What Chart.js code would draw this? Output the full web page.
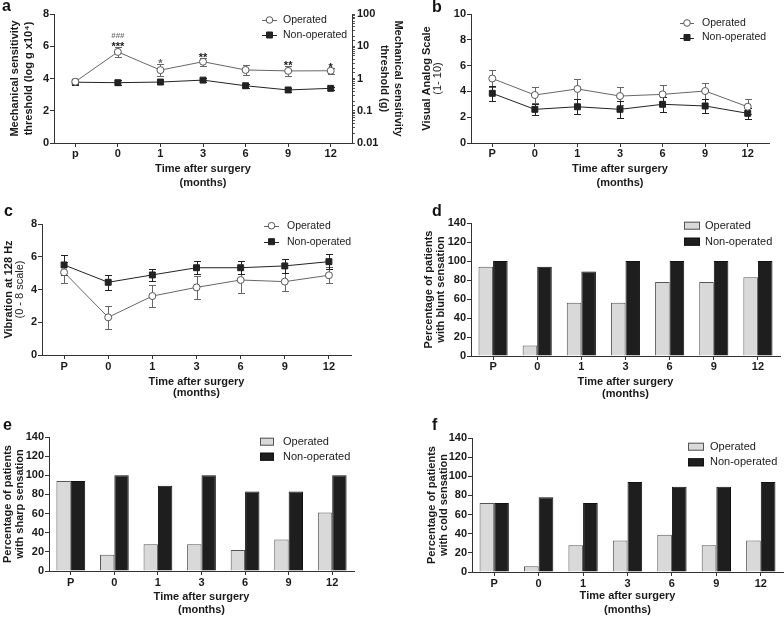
<!DOCTYPE html>
<html>
<head>
<meta charset="utf-8">
<script src="https://cdn.jsdelivr.net/npm/chart.js@4.4.1/dist/chart.umd.min.js"></script>
<style>
body { margin: 0; background: #fff; width: 784px; height: 617px; position: relative; overflow: hidden; }
canvas { position: absolute; }
.lbl { position: absolute; font: bold 16px "Liberation Sans", Arial, sans-serif; color: #111; line-height: 16px; }
</style>
</head>
<body>
<canvas id="cA" width="415" height="200" style="left:0;top:0"></canvas>
<canvas id="cB" width="392" height="200" style="left:392px;top:0"></canvas>
<canvas id="cC" width="392" height="210" style="left:0;top:200px"></canvas>
<canvas id="cD" width="392" height="210" style="left:392px;top:200px"></canvas>
<canvas id="cE" width="392" height="207" style="left:0;top:410px"></canvas>
<canvas id="cF" width="392" height="207" style="left:392px;top:410px"></canvas>
<div class="lbl" style="left:2px;top:-2px">a</div>
<div class="lbl" style="left:432px;top:-1px">b</div>
<div class="lbl" style="left:4px;top:203px">c</div>
<div class="lbl" style="left:432px;top:203px">d</div>
<div class="lbl" style="left:3px;top:417px">e</div>
<div class="lbl" style="left:432px;top:417px">f</div>
<script>
var FONT = '"Liberation Sans", Arial, sans-serif';
var INK = '#1a1a1a';
var AXIS = '#333';
Chart.defaults.font.family = FONT;
Chart.defaults.color = INK;

// categories
var monthsA = ["p", "0", "1", "3", "6", "9", "12"];
var months = ["P", "0", "1", "3", "6", "9", "12"];

// a: mechanical sensitivity threshold
var mechOp = [3.8, 5.65, 4.52, 5.04, 4.53, 4.47, 4.48];
var mechOpErr = [0.15, 0.3, 0.35, 0.25, 0.33, 0.3, 0.2];
var mechNon = [3.77, 3.74, 3.78, 3.9, 3.55, 3.29, 3.39];
var mechNonErr = [0.15, 0.15, 0.15, 0.12, 0.13, 0.1, 0.1];
var mechStars = ["", "***", "*", "**", "", "**", "*"];
var mechHashes = ["", "###", "", "", "", "", ""];
var gramTicks = ["0.01", "0.1", "1", "10", "100"];

// b: visual analog scale
var vasOp = [5.0, 3.72, 4.19, 3.64, 3.77, 4.03, 2.81];
var vasOpErr = [0.66, 0.62, 0.77, 0.68, 0.75, 0.6, 0.58];
var vasNon = [3.85, 2.61, 2.81, 2.61, 3.0, 2.87, 2.3];
var vasNonErr = [0.6, 0.45, 0.6, 0.65, 0.6, 0.55, 0.45];

// c: vibration
var vibOp = [5.05, 2.3, 3.6, 4.13, 4.58, 4.48, 4.87];
var vibOpErr = [0.65, 0.7, 0.65, 0.68, 0.8, 0.55, 0.5];
var vibNon = [5.5, 4.44, 4.89, 5.33, 5.33, 5.44, 5.7];
var vibNonErr = [0.6, 0.45, 0.35, 0.4, 0.4, 0.45, 0.45];

// d-f: percentage of patients
var bluntOp = [94, 11, 56, 56, 78, 78, 83];
var bluntNon = [100, 94, 89, 100, 100, 100, 100];
var sharpOp = [94, 17, 28, 28, 22, 33, 61];
var sharpNon = [94, 100, 89, 100, 83, 83, 100];
var coldOp = [72, 6, 28, 33, 39, 28, 33];
var coldNon = [72, 78, 72, 94, 89, 89, 94];

// error bars, drawn under the markers
var errorBars = {
  id: 'errorBars',
  beforeDatasetsDraw: function(chart) {
    var ctx = chart.ctx;
    chart.data.datasets.forEach(function(ds, i) {
      if (!ds.errors) return;
      var meta = chart.getDatasetMeta(i);
      var ys = chart.scales[meta.yAxisID];
      ctx.save();
      ctx.strokeStyle = ds.errorColor;
      ctx.lineWidth = 1;
      meta.data.forEach(function(pt, j) {
        var x = Math.round(pt.x) + 0.5;
        var top = Math.round(ys.getPixelForValue(ds.data[j] + ds.errors[j])) + 0.5;
        var bot = Math.round(ys.getPixelForValue(ds.data[j] - ds.errors[j])) + 0.5;
        ctx.beginPath();
        ctx.moveTo(x, top); ctx.lineTo(x, bot);
        ctx.moveTo(x - 3.5, top); ctx.lineTo(x + 3.5, top);
        ctx.moveTo(x - 3.5, bot); ctx.lineTo(x + 3.5, bot);
        ctx.stroke();
      });
      ctx.restore();
    });
  }
};

// y titles (mixed weights, so drawn by hand)
function sideTitles(items) {
  return {
    id: 'sideTitles',
    afterDraw: function(chart) {
      var ctx = chart.ctx, ca = chart.chartArea;
      var cy = (ca.top + ca.bottom) / 2;
      items.forEach(function(it) {
        ctx.save();
        ctx.translate(it.x, cy);
        ctx.rotate(it.rot || -Math.PI / 2);
        ctx.font = (it.bold === false ? '' : 'bold ') + '11px ' + FONT;
        ctx.fillStyle = INK;
        ctx.textAlign = 'center';
        ctx.textBaseline = 'middle';
        ctx.fillText(it.text, 0, 0);
        ctx.restore();
      });
    }
  };
}

function legendBox(o) {
  return {
    id: 'legendBox',
    afterDraw: function(chart) {
      var ctx = chart.ctx;
      chart.data.datasets.forEach(function(ds, i) {
        var y = o.rows[i];
        ctx.save();
        if (o.kind === 'line') {
          ctx.strokeStyle = ds.borderColor;
          ctx.lineWidth = 1;
          ctx.beginPath();
          ctx.moveTo(o.x0, Math.round(y) + 0.5);
          ctx.lineTo(o.x1, Math.round(y) + 0.5);
          ctx.stroke();
          var mx = (o.x0 + o.x1) / 2;
          ctx.fillStyle = ds.pointBackgroundColor;
          ctx.strokeStyle = ds.pointBorderColor;
          ctx.beginPath();
          if (ds.pointStyle === 'rect') ctx.rect(mx - 3, y - 3, 6, 6);
          else ctx.arc(mx, y, 3.3, 0, Math.PI * 2);
          ctx.fill();
          ctx.stroke();
        } else {
          ctx.fillStyle = ds.backgroundColor;
          ctx.strokeStyle = ds.borderColor;
          ctx.lineWidth = 1;
          ctx.fillRect(o.x0, y - 4, o.x1 - o.x0, 8);
          ctx.strokeRect(o.x0 + 0.5, y - 3.5, o.x1 - o.x0 - 1, 7);
        }
        ctx.fillStyle = INK;
        ctx.font = o.size + 'px ' + FONT;
        ctx.textBaseline = 'middle';
        ctx.textAlign = 'left';
        ctx.fillText(ds.label, o.tx, y);
        ctx.restore();
      });
    }
  };
}

// significance marks for panel a
var sigMarks = {
  id: 'sigMarks',
  afterDatasetsDraw: function(chart) {
    var ctx = chart.ctx;
    var ds = chart.data.datasets[0];
    var meta = chart.getDatasetMeta(0);
    var ys = chart.scales.y;
    ctx.save();
    ctx.textAlign = 'center';
    ctx.textBaseline = 'alphabetic';
    meta.data.forEach(function(pt, j) {
      var top = ys.getPixelForValue(ds.data[j] + ds.errors[j]);
      if (mechStars[j]) {
        ctx.font = 'bold 11px ' + FONT;
        ctx.fillStyle = j === 2 ? '#666' : INK;
        ctx.fillText(mechStars[j], pt.x, top + 3);
      }
      if (mechHashes[j]) {
        ctx.font = 'bold 8px ' + FONT;
        ctx.fillStyle = '#777';
        ctx.fillText(mechHashes[j], pt.x, top - 9);
      }
    });
    ctx.restore();
  }
};

function xAxis(o) {
  return {
    type: 'category',
    offset: true,
    grid: { display: true, drawOnChartArea: false, offset: false, tickLength: 4, tickColor: AXIS },
    border: { color: AXIS, width: 1 },
    ticks: { color: INK, font: { size: 11, weight: 'bold' }, padding: o.pad, maxRotation: 0, autoSkip: false },
    title: {
      display: true, text: ['Time after surgery', '(months)'], color: INK,
      font: { size: 11, weight: 'bold', lineHeight: o.lh }, padding: { top: 0, bottom: o.pb }
    },
    afterFit: function(s) { s.height = o.h; }
  };
}

function yAxis(min, max, step, w) {
  return {
    type: 'linear', position: 'left', min: min, max: max,
    grid: { display: true, drawOnChartArea: false, tickLength: 4, tickColor: AXIS },
    border: { color: AXIS, width: 1 },
    ticks: { stepSize: step, color: INK, font: { size: 11, weight: 'bold' }, padding: 1 },
    afterFit: function(s) { s.width = w; }
  };
}

function lineSet(label, data, errs, op) {
  return {
    label: label, data: data, errors: errs,
    borderColor: op ? '#666' : '#222', borderWidth: 1,
    pointStyle: op ? 'circle' : 'rect', pointRadius: op ? 3.5 : 4.2,
    pointBackgroundColor: op ? '#fff' : '#222', pointBorderColor: op ? '#555' : '#222',
    pointBorderWidth: 1, errorColor: op ? '#666' : '#222', tension: 0, fill: false
  };
}

function barSet(label, data, op) {
  return {
    label: label, data: data,
    backgroundColor: op ? '#d9d9d9' : '#1e1e1e', borderColor: op ? '#555' : '#111', borderWidth: 1,
    categoryPercentage: 0.66, barPercentage: 1
  };
}

function baseOptions(pad, scales) {
  return {
    responsive: false, animation: false,
    layout: { padding: pad },
    plugins: { legend: { display: false }, tooltip: { enabled: false } },
    scales: scales
  };
}

// panel a
new Chart(document.getElementById('cA'), {
  type: 'line',
  data: { labels: monthsA, datasets: [
    lineSet('Operated', mechOp, mechOpErr, true),
    lineSet('Non-operated', mechNon, mechNonErr, false)
  ] },
  options: baseOptions({ left: 0, right: 0, top: 14, bottom: 0 }, {
    x: xAxis({ pad: 0, lh: 1.3, pb: 9.8, h: 57 }),
    y: yAxis(0, 8, 1, 54),
    y2: {
      type: 'logarithmic', position: 'right', min: 0.01, max: 100,
      grid: { display: true, drawOnChartArea: false, tickLength: 3, tickColor: '#555' },
      border: { color: AXIS, width: 1 },
      ticks: {
        autoSkip: false, color: INK, font: { size: 11, weight: 'bold' }, padding: 2,
        callback: function(v) {
          var l = Math.log10(v), r = Math.round(l);
          return Math.abs(l - r) < 1e-6 ? gramTicks[r + 2] : '';
        }
      },
      afterFit: function(s) { s.width = 63; }
    }
  }),
  plugins: [errorBars, sigMarks,
    sideTitles([
      { x: 15, text: 'Mechanical sensitivity' },
      { x: 29, text: 'threshold (log g x10\u2074)' },
      { x: 398, text: 'Mechanical sensitivity', rot: Math.PI / 2 },
      { x: 384, text: 'threshold (g)', rot: Math.PI / 2 }
    ]),
    legendBox({ kind: 'line', x0: 262, x1: 277, tx: 283, rows: [20, 35], size: 10.5 })]
});

// panel b
new Chart(document.getElementById('cB'), {
  type: 'line',
  data: { labels: months, datasets: [
    lineSet('Operated', vasOp, vasOpErr, true),
    lineSet('Non-operated', vasNon, vasNonErr, false)
  ] },
  options: baseOptions({ left: 0, right: 15, top: 14, bottom: 0 }, {
    x: xAxis({ pad: 0, lh: 1.3, pb: 9.8, h: 57 }),
    y: yAxis(0, 10, 2, 79)
  }),
  plugins: [errorBars,
    sideTitles([
      { x: 35, text: 'Visual Analog Scale' },
      { x: 46, text: '(1- 10)', bold: false }
    ]),
    legendBox({ kind: 'line', x0: 288, x1: 302, tx: 310, rows: [23, 37.5], size: 10.5 })]
});

// panel c
new Chart(document.getElementById('cC'), {
  type: 'line',
  data: { labels: months, datasets: [
    lineSet('Operated', vibOp, vibOpErr, true),
    lineSet('Non-operated', vibNon, vibNonErr, false)
  ] },
  options: baseOptions({ left: 0, right: 41, top: 24, bottom: 0 }, {
    x: xAxis({ pad: 1, lh: 1.05, pb: 10.9, h: 55 }),
    y: yAxis(0, 8, 2, 42)
  }),
  plugins: [errorBars,
    sideTitles([
      { x: 8.5, text: 'Vibration at 128 Hz' },
      { x: 20, text: '(0 - 8 scale)', bold: false }
    ]),
    legendBox({ kind: 'line', x0: 264, x1: 279, tx: 287, rows: [25.7, 41.7], size: 10.5 })]
});

// panel d
new Chart(document.getElementById('cD'), {
  type: 'bar',
  data: { labels: months, datasets: [
    barSet('Operated', bluntOp, true),
    barSet('Non-operated', bluntNon, false)
  ] },
  options: baseOptions({ left: 0, right: 4, top: 23, bottom: 0 }, {
    x: xAxis({ pad: 0, lh: 1.15, pb: 9.4, h: 54 }),
    y: yAxis(0, 140, 20, 79)
  }),
  plugins: [
    sideTitles([
      { x: 37, text: 'Percentage of patients' },
      { x: 49, text: 'with blunt sensation' }
    ]),
    legendBox({ kind: 'bar', x0: 292, x1: 308, tx: 313, rows: [25.7, 41.7], size: 11 })]
});

// panel e
new Chart(document.getElementById('cE'), {
  type: 'bar',
  data: { labels: months, datasets: [
    barSet('Operated', sharpOp, true),
    barSet('Non-operated', sharpNon, false)
  ] },
  options: baseOptions({ left: 0, right: 38, top: 27, bottom: 0 }, {
    x: xAxis({ pad: 1, lh: 1.2, pb: 0.4, h: 46 }),
    y: yAxis(0, 140, 20, 49)
  }),
  plugins: [
    sideTitles([
      { x: 7.5, text: 'Percentage of patients' },
      { x: 19.5, text: 'with sharp sensation' }
    ]),
    legendBox({ kind: 'bar', x0: 260, x1: 274, tx: 283, rows: [31.7, 46.7], size: 11 })]
});

// panel f
new Chart(document.getElementById('cF'), {
  type: 'bar',
  data: { labels: months, datasets: [
    barSet('Operated', coldOp, true),
    barSet('Non-operated', coldNon, false)
  ] },
  options: baseOptions({ left: 0, right: 1, top: 28, bottom: 0 }, {
    x: xAxis({ pad: 1, lh: 1.25, pb: 0, h: 45 }),
    y: yAxis(0, 140, 20, 80)
  }),
  plugins: [
    sideTitles([
      { x: 39.5, text: 'Percentage of patients' },
      { x: 52, text: 'with cold sensation' }
    ]),
    legendBox({ kind: 'bar', x0: 296, x1: 312, tx: 318, rows: [36.7, 52.3], size: 11 })]
});
</script>
</body>
</html>
